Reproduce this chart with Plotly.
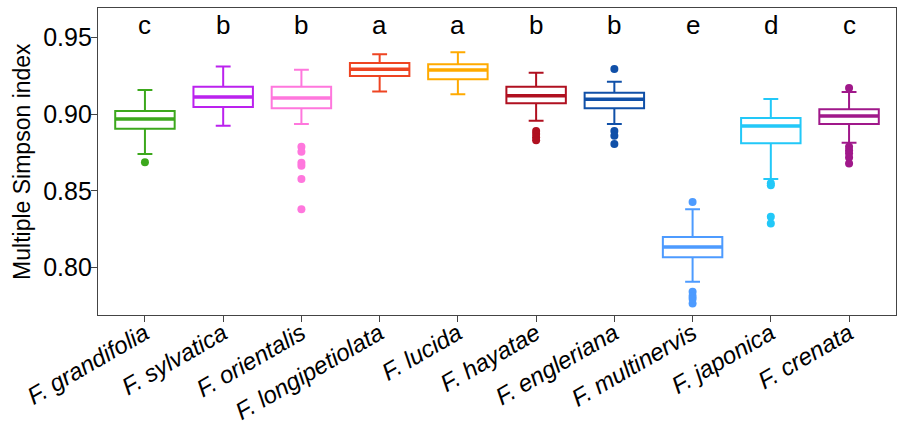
import plotly.graph_objects as go

species = ["F. grandifolia", "F. sylvatica", "F. orientalis", "F. longipetiolata",
           "F. lucida", "F. hayatae", "F. engleriana", "F. multinervis",
           "F. japonica", "F. crenata"]
letters = ["c", "b", "b", "a", "a", "b", "b", "e", "d", "c"]
colors = ["#3CA81C", "#BB22EE", "#FF77DD", "#EE4422", "#FFAA00",
          "#B01020", "#1050A8", "#4D9BFF", "#22C8F8", "#A0188A"]

lower_whisker = [0.874, 0.8925, 0.8936, 0.9147, 0.913, 0.8957, 0.8936, 0.7907, 0.8577, 0.8814]
q1 = [0.8905, 0.9047, 0.9038, 0.9249, 0.9227, 0.9071, 0.9038, 0.8068, 0.881, 0.8936]
median = [0.8968, 0.9112, 0.9105, 0.9293, 0.9288, 0.912, 0.9097, 0.8135, 0.8923, 0.8988]
q3 = [0.9021, 0.9179, 0.9179, 0.9334, 0.9325, 0.9179, 0.914, 0.820, 0.8975, 0.9032]
upper_whisker = [0.9158, 0.931, 0.929, 0.939, 0.9403, 0.927, 0.9212, 0.8381, 0.9099, 0.9144]
outliers = [
    [0.8686],
    [],
    [0.8788, 0.8755, 0.8683, 0.8664, 0.8577, 0.8381],
    [],
    [],
    [0.889, 0.887, 0.885, 0.883],
    [0.9295, 0.889, 0.886, 0.8805],
    [0.8427, 0.7842, 0.7815, 0.7797, 0.7766],
    [0.8549, 0.8536, 0.8331, 0.8288],
    [0.917, 0.8788, 0.8765, 0.8745, 0.8718, 0.8679],
]
letter_y = 0.958
y_title = "Multiple Simpson index"

FONT = "Liberation Sans, Arial, sans-serif"

fig = go.Figure()
for i, sp in enumerate(species):
    fig.add_trace(go.Box(
        x=[sp], q1=[q1[i]], median=[median[i]], q3=[q3[i]],
        lowerfence=[lower_whisker[i]], upperfence=[upper_whisker[i]],
        width=0.76, whiskerwidth=0.25,
        line=dict(color=colors[i], width=2), fillcolor="rgba(255,255,255,0)",
        boxpoints=False, showlegend=False, hoverinfo="skip"))
    # thicker median line
    fig.add_trace(go.Box(
        x=[sp], q1=[median[i]], median=[median[i]], q3=[median[i]],
        lowerfence=[median[i]], upperfence=[median[i]],
        width=0.76, whiskerwidth=0,
        line=dict(color=colors[i], width=3.5), fillcolor="rgba(255,255,255,0)",
        boxpoints=False, showlegend=False, hoverinfo="skip"))
    if outliers[i]:
        fig.add_trace(go.Scatter(
            x=[sp] * len(outliers[i]), y=outliers[i], mode="markers",
            marker=dict(color=colors[i], size=8), showlegend=False, hoverinfo="skip"))

for sp, lt in zip(species, letters):
    fig.add_annotation(x=sp, y=letter_y, text=lt, showarrow=False,
                       font=dict(family=FONT, size=26, color="black"),
                       xref="x", yref="y", yanchor="middle")

fig.add_annotation(x=-0.096, y=0.5, xref="paper", yref="paper", text=y_title,
                   textangle=-90, showarrow=False, xanchor="center", yanchor="middle",
                   font=dict(family=FONT, size=23, color="black"))

fig.update_layout(
    width=899, height=427,
    margin=dict(l=98, r=3, t=8, b=112),
    paper_bgcolor="white", plot_bgcolor="white",
    boxmode="overlay",
    font=dict(family=FONT, color="black"),
)
fig.update_xaxes(
    type="category", categoryorder="array", categoryarray=species,
    range=[-0.6, 9.6], automargin=False,
    showline=True, mirror=True, linecolor="#444444", linewidth=1.3,
    ticks="outside", ticklen=6, tickcolor="#444444", tickwidth=1.3,
    tickangle=-30, showgrid=False, zeroline=False, ticklabelstandoff=-12,
    tickfont=dict(family=FONT, size=24, color="black", style="italic"),
)
fig.update_yaxes(
    range=[0.7691, 0.9692], automargin=False,
    tickvals=[0.80, 0.85, 0.90, 0.95], ticktext=["0.80", "0.85", "0.90", "0.95"],
    showline=True, mirror=True, linecolor="#444444", linewidth=1.3,
    ticks="outside", ticklen=6, tickcolor="#444444", tickwidth=1.3,
    showgrid=False, zeroline=False, ticklabelstandoff=-6,
    tickfont=dict(family=FONT, size=25, color="black"),
)

fig.write_html(
    "out.html",
    config={"displayModeBar": False},
    post_script="document.body.style.margin='0';document.body.style.padding='0';"
                "document.body.style.overflow='hidden';",
)
